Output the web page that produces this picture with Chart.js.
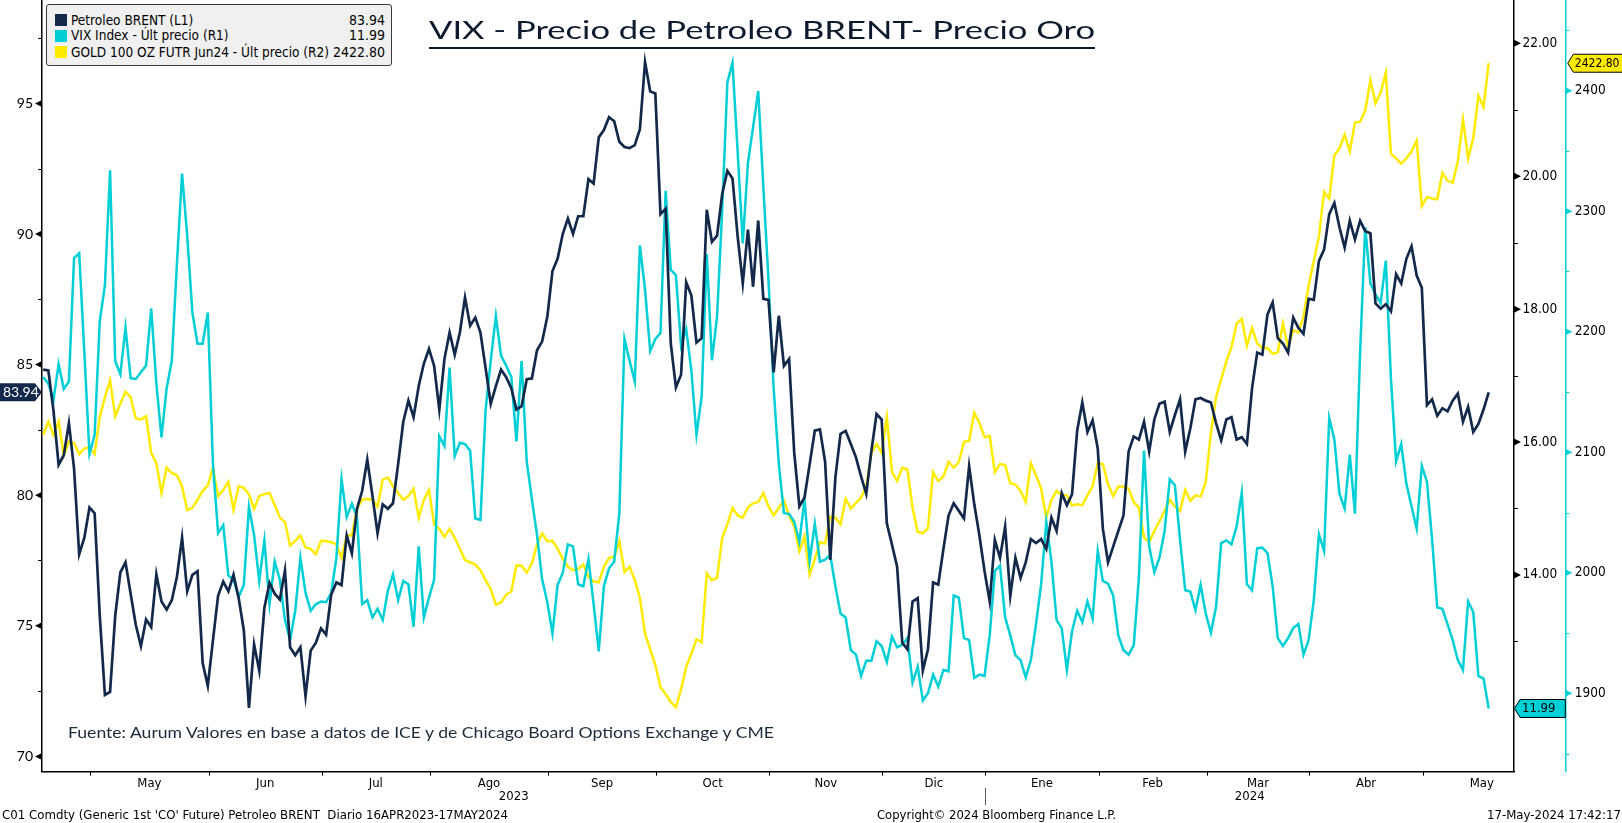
<!DOCTYPE html>
<html><head><meta charset="utf-8">
<script src="https://cdn.jsdelivr.net/npm/chart.js"></script>
<style>
html,body{margin:0;padding:0;background:#fff;width:1622px;height:823px;overflow:hidden;}
#wrap{position:relative;width:1622px;height:823px;}
canvas{position:absolute;left:0;top:0;}
.t{position:absolute;white-space:nowrap;transform-origin:0 0;}
#legend{position:absolute;left:46px;top:4px;width:346px;height:62px;background:#f0f0f0;border:1px solid #3a3a3a;border-radius:3px;box-sizing:border-box;font-family:'DejaVu Sans Condensed','DejaVu Sans',sans-serif;font-size:14px;color:#000;}
#legend .row{position:absolute;left:0;right:0;height:15px;line-height:15px;}
#legend .sq{position:absolute;left:8px;top:1.5px;width:12px;height:12px;}
#legend .lb{position:absolute;left:24px;top:0;white-space:nowrap;transform-origin:0 0;}
#legend .vl{position:absolute;right:6px;top:0;white-space:nowrap;}
.ft{font-family:'Liberation Sans Narrow','DejaVu Sans Condensed',sans-serif;font-size:13px;line-height:13px;color:#000;}
</style></head><body>
<div id="wrap">
<canvas id="c" width="1622" height="823"></canvas>
<div id="title" class="t" data-w="666" style="left:429px;top:17px;font-family:Lato,'Open Sans',sans-serif;font-size:25px;line-height:25px;color:#0b1a2c;">VIX - Precio de Petroleo BRENT- Precio Oro</div>
<div style="position:absolute;left:429px;top:47px;width:666px;height:1.5px;background:#0b1a2c;"></div>
<div id="legend">
  <div class="row" style="top:7.5px"><div class="sq" style="background:#13294b"></div><div class="lb">Petroleo BRENT (L1)</div><div class="vl">83.94</div></div>
  <div class="row" style="top:23px"><div class="sq" style="background:#00cfd6"></div><div class="lb">VIX Index - Últ precio (R1)</div><div class="vl">11.99</div></div>
  <div class="row" style="top:39.5px"><div class="sq" style="background:#ffeb00"></div><div class="lb" id="goldLb">GOLD 100 OZ FUTR Jun24 - Últ precio (R2)</div><div class="vl">2422.80</div></div>
</div>
<div id="source" class="t" data-w="706" style="left:68px;top:723.5px;font-family:Lato,'Open Sans',sans-serif;font-size:16px;line-height:16px;color:#1c2a3a;">Fuente: Aurum Valores en base a datos de ICE y de Chicago Board Options Exchange y CME</div>
<div class="t ft" data-w="506" style="left:2px;top:807.5px;">C01 Comdty (Generic 1st 'CO' Future) Petroleo BRENT&nbsp; Diario 16APR2023-17MAY2024</div>
<div class="t ft" data-w="239" style="left:877px;top:807.5px;">Copyright© 2024 Bloomberg Finance L.P.</div>
<div class="t ft" data-w="134" style="left:1487px;top:807.5px;">17-May-2024 17:42:17</div>
</div>
<script>
// ---- data (one value per trading day, 17 Apr 2023 .. 17 May 2024) ----
const brent = [84.81,84.78,83.24,81.16,81.53,82.76,81.02,77.74,78.37,79.53,
79.31,75.38,72.35,72.47,75.38,77.04,77.43,76.23,75.04,74.22,
75.24,74.95,76.97,75.93,75.62,75.98,76.88,78.37,76.32,76.95,
77.09,73.57,72.70,74.44,76.15,76.69,76.32,76.95,76.06,74.83,
71.86,74.29,73.28,75.69,76.64,76.23,76.01,77.12,74.18,73.87,
74.18,72.30,74.05,74.35,74.90,74.66,76.20,76.66,76.56,78.46,
77.77,79.48,80.16,81.36,79.99,78.54,79.65,79.48,79.69,81.19,
82.81,83.62,82.99,84.18,85.04,85.60,84.95,83.28,85.21,86.23,
85.38,86.23,87.57,86.49,86.80,86.23,84.87,83.50,84.18,84.81,
84.52,84.10,83.28,83.41,84.44,84.47,85.55,85.89,86.83,88.58,
89.05,90.00,90.59,90.00,90.68,90.68,92.10,91.93,93.70,93.98,
94.47,94.32,93.53,93.33,93.29,93.40,94.01,96.58,95.46,95.38,
90.76,90.97,85.81,84.13,84.61,88.15,87.65,85.84,86.01,90.93,
89.70,89.94,91.53,92.42,92.13,89.91,88.11,90.17,87.98,90.51,
87.52,87.48,84.70,86.87,84.95,85.21,81.62,79.57,79.91,81.19,
82.47,82.52,81.28,77.52,80.68,82.35,82.46,81.96,81.45,80.71,
80.05,81.70,83.11,82.90,78.92,78.11,77.26,74.35,74.10,75.93,
76.06,73.29,74.10,76.66,76.58,77.94,79.22,79.69,79.40,79.11,
81.11,79.65,78.46,77.09,75.93,78.29,77.60,78.80,76.15,77.60,
76.83,77.43,78.32,78.17,78.32,77.94,79.14,78.63,80.08,79.62,
80.03,82.47,83.55,82.42,82.87,81.79,78.71,77.43,78.03,78.63,
79.22,81.67,82.25,82.13,82.81,81.67,82.90,83.50,83.58,82.42,
83.07,83.67,81.67,82.56,83.67,83.72,83.62,83.55,82.76,82.10,
82.90,82.99,82.13,82.22,81.96,84.10,85.46,85.38,86.92,87.38,
86.01,85.81,85.46,86.80,86.41,86.18,87.52,87.48,88.97,89.40,
90.76,91.19,90.25,89.48,90.51,89.79,90.51,90.11,90.03,87.34,
87.14,87.31,87.04,88.46,88.11,89.05,89.53,88.41,87.94,83.45,
83.67,83.04,83.33,83.21,83.62,83.89,82.81,83.38,82.42,82.73,
83.28,83.94];
const vix = [16.98,16.88,16.63,17.17,16.80,16.91,18.77,18.84,17.35,15.82,
16.11,17.82,18.36,20.09,17.22,17.02,17.72,16.96,16.95,17.05,
17.15,18.01,16.88,16.07,16.81,17.22,18.69,20.04,19.10,17.95,
17.48,17.48,17.95,15.67,14.63,14.75,13.99,13.93,13.67,13.85,
15.02,14.60,13.91,14.52,13.56,14.20,13.93,13.32,13.02,13.46,
14.26,13.73,13.46,13.56,13.60,13.59,13.73,14.26,15.44,14.87,
15.07,14.87,13.56,13.62,13.36,13.49,13.32,13.76,14.01,13.62,
13.91,13.86,13.22,14.43,13.36,13.66,13.93,16.09,15.94,17.12,
15.79,15.99,15.97,15.87,14.85,14.83,16.48,17.22,17.90,17.30,
17.15,16.98,16.01,17.22,15.71,15.14,14.60,13.93,13.59,13.12,
13.85,14.03,14.46,14.43,13.86,13.83,14.24,13.56,12.85,13.83,
14.10,14.20,14.93,17.55,17.22,16.91,18.96,18.29,17.37,17.55,
17.64,19.78,18.59,18.51,17.45,17.70,17.08,16.11,16.68,18.83,
17.23,17.89,19.50,21.41,21.71,20.37,18.99,20.20,20.74,21.28,
19.83,18.43,16.81,15.67,14.93,14.92,14.80,14.50,15.13,14.21,
14.77,14.20,14.23,14.30,13.83,13.42,13.36,12.87,12.80,12.48,
12.71,12.71,13.00,12.93,12.69,13.07,12.91,12.95,13.05,12.38,
12.62,12.11,12.22,12.50,12.32,12.57,12.55,13.69,13.66,13.05,
13.02,12.45,12.50,12.48,13.09,14.06,14.14,13.36,13.09,12.79,
12.72,12.46,12.72,13.26,13.86,14.80,14.20,13.32,13.20,12.57,
13.15,13.46,13.29,13.60,13.34,14.36,13.91,13.87,13.69,13.09,
12.87,12.80,12.94,13.96,15.87,14.43,14.04,14.26,14.66,15.44,
15.35,14.53,13.77,13.75,13.47,13.85,13.42,13.13,13.52,14.48,
14.52,14.46,14.73,15.24,13.86,13.77,14.40,14.41,14.33,13.83,
13.05,12.93,13.05,13.20,13.26,12.80,13.02,13.62,14.61,14.36,
16.36,16.04,15.22,15.00,15.81,14.92,17.35,19.23,18.39,18.22,
18.09,18.73,16.95,15.71,15.97,15.37,15.03,14.70,15.64,15.40,
14.53,13.51,13.49,13.26,13.02,12.72,12.57,13.60,13.44,12.48,
12.44,11.99];
const gold = [2114.3,2125.4,2114.3,2125.4,2097.6,2108.7,2107.6,2098.4,2103.2,2103.9,
2098.4,2129.1,2145.8,2159.8,2129.8,2140.2,2150.2,2145.8,2128.0,2127.3,
2129.8,2099.5,2091.0,2066.2,2087.2,2082.8,2080.9,2071.7,2052.1,2053.9,
2060.6,2068.0,2072.4,2087.2,2063.6,2068.7,2075.4,2052.4,2071.7,2070.6,
2065.0,2053.2,2063.6,2065.4,2066.2,2056.2,2045.8,2042.1,2022.5,2026.5,
2031.0,2021.0,2019.9,2015.4,2026.5,2026.1,2025.4,2023.5,2012.4,2030.9,
2030.9,2053.2,2060.6,2061.3,2060.6,2055.0,2077.3,2079.1,2071.7,2066.2,
2060.6,2063.6,2069.8,2045.8,2060.6,2068.7,2040.2,2036.5,2029.8,2036.5,
2029.1,2019.9,2010.6,2008.7,2006.9,2002.1,1993.9,1986.5,1973.6,1975.4,
1981.7,1984.7,2006.1,2005.8,2000.2,2007.6,2023.5,2032.8,2026.1,2026.5,
2019.9,2011.7,2005.0,2002.1,2003.2,2006.9,1996.5,1992.8,1992.1,2005.0,
2012.4,2013.2,2026.5,2000.6,2005.0,1994.0,1979.1,1949.5,1936.5,1923.6,
1905.1,1899.5,1892.8,1888.4,1903.2,1921.7,1932.8,1945.0,1942.1,1999.5,
1993.9,1995.8,2029.1,2040.2,2053.9,2047.6,2045.8,2054.3,2057.6,2058.7,
2066.2,2055.0,2047.6,2053.9,2059.8,2047.6,2038.4,2018.0,2030.2,1998.4,
2011.3,2025.4,2024.3,2046.5,2045.8,2040.2,2061.3,2053.2,2058.0,2062.4,
2071.7,2099.5,2106.9,2099.5,2129.1,2083.5,2076.1,2087.2,2085.8,2053.9,
2033.9,2032.8,2037.0,2083.5,2076.1,2079.8,2092.1,2087.2,2092.1,2108.7,
2109.5,2132.8,2124.3,2112.4,2113.5,2083.5,2090.2,2089.5,2074.3,2073.2,
2068.0,2058.7,2090.9,2080.9,2069.8,2045.8,2060.6,2068.0,2064.3,2064.3,
2055.8,2056.9,2056.1,2064.3,2071.7,2090.9,2090.2,2073.6,2063.6,2071.7,
2071.7,2069.8,2058.7,2053.9,2029.1,2025.4,2034.7,2042.8,2051.3,2060.6,
2055.0,2051.3,2068.7,2059.8,2064.3,2063.2,2075.4,2116.1,2145.8,2160.6,
2175.4,2187.3,2206.9,2210.6,2188.4,2203.2,2190.2,2186.5,2186.5,2181.7,
2182.8,2206.9,2187.3,2201.3,2199.5,2212.4,2238.4,2258.7,2279.1,2316.1,
2310.6,2346.5,2352.1,2363.5,2349.5,2373.5,2374.3,2383.5,2408.7,2389.5,
2398.4,2415.0,2347.6,2343.9,2339.5,2343.9,2349.5,2358.7,2304.3,2311.7,
2310.6,2309.9,2331.7,2325.4,2323.6,2341.3,2376.1,2343.9,2360.6,2395.8,
2386.5,2422.8];

// ---- categories / ticks ----
const monthLabels = ['May','Jun','Jul','Ago','Sep','Oct','Nov','Dic','Ene','Feb','Mar','Abr','May'];
const monthStart  = [10,33,55,76,99,120,142,164,184,206,227,247,269]; // first trading-day index
const monthDays   = [23,22,21,23,21,22,22,20,22,21,20,22,23];
const yearLabels  = ['2023','2024'];
const yearStartMonth = 8; // index in monthStart where 2024 begins
const brentTicks = [70,75,80,85,90,95];
const brentMinor = [72.5,77.5,82.5,87.5,92.5,97.5];
const vixTicks   = [14,16,18,20,22];
const vixMinor   = [13,15,17,19,21];
const goldTicks  = [1900,2000,2100,2200,2300,2400];
const goldMinor  = [1850,1950,2050,2150,2250,2350,2450];
const lastValues = {brent:'83.94', vix:'11.99', gold:'2422.80'};

const C_BRENT = '#13294b', C_VIX = '#00cfd6', C_GOLD = '#ffeb00';
const BOUND_OFF = 0.85;
const boundaries = monthStart.map(s => s - BOUND_OFF);
const labelCenters = monthStart.map((s, k) => s - BOUND_OFF + monthDays[k] / 2);

const NARROW = "'Liberation Sans Narrow','DejaVu Sans Condensed',sans-serif";
const COND = "'DejaVu Sans Condensed','DejaVu Sans',sans-serif";
const ROUND = "Lato,'Open Sans',sans-serif";

function tri(ctx, x, y, dir, color) {
  ctx.fillStyle = color;
  ctx.beginPath();
  ctx.moveTo(x, y - 3.5);
  ctx.lineTo(x + dir * 7, y);
  ctx.lineTo(x, y + 3.5);
  ctx.closePath();
  ctx.fill();
}
function hline(ctx, x0, x1, y, color) {
  ctx.strokeStyle = color; ctx.lineWidth = 1;
  ctx.beginPath(); ctx.moveTo(x0, Math.round(y) + 0.5); ctx.lineTo(x1, Math.round(y) + 0.5); ctx.stroke();
}

const deco = {
  id: 'deco',
  afterDraw(chart) {
    const {ctx, chartArea: a, scales} = chart;
    const xs = scales.x, ys = scales.y, y1 = scales.y1, y2 = scales.y2;
    ctx.save();
    brentTicks.forEach(v => tri(ctx, a.left, ys.getPixelForValue(v), -1, '#000'));
    brentMinor.forEach(v => hline(ctx, a.left - 4, a.left, ys.getPixelForValue(v), '#000'));
    vixTicks.forEach(v => tri(ctx, a.right, y1.getPixelForValue(v), 1, '#000'));
    vixMinor.forEach(v => hline(ctx, a.right, a.right + 4, y1.getPixelForValue(v), '#000'));
    const gx = y2.left;
    goldTicks.forEach(v => tri(ctx, gx, y2.getPixelForValue(v), 1, C_VIX));
    goldMinor.forEach(v => hline(ctx, gx, gx + 4, y2.getPixelForValue(v), C_VIX));
    ctx.strokeStyle = '#000'; ctx.lineWidth = 1;
    boundaries.forEach(b => {
      const x = Math.round(xs.getPixelForValue(b)) + 0.5;
      ctx.beginPath(); ctx.moveTo(x, a.bottom); ctx.lineTo(x, a.bottom + 4); ctx.stroke();
    });
    const sepX = Math.round(xs.getPixelForValue(boundaries[yearStartMonth])) + 0.5;
    ctx.strokeStyle = '#555';
    ctx.beginPath(); ctx.moveTo(sepX, 788); ctx.lineTo(sepX, 805); ctx.stroke();
    ctx.fillStyle = '#000';
    ctx.font = '13px ' + NARROW;
    ctx.textAlign = 'center'; ctx.textBaseline = 'middle';
    ctx.fillText(yearLabels[0], (a.left + sepX) / 2, 797);
    ctx.fillText(yearLabels[1], (sepX + a.right) / 2, 797);
    // Brent tag
    let yc = ys.getPixelForValue(parseFloat(lastValues.brent));
    ctx.fillStyle = C_BRENT;
    ctx.beginPath();
    ctx.moveTo(0, yc - 9); ctx.lineTo(35, yc - 9); ctx.lineTo(a.left, yc); ctx.lineTo(35, yc + 9); ctx.lineTo(0, yc + 9);
    ctx.closePath(); ctx.fill();
    ctx.fillStyle = '#fff'; ctx.font = '14px ' + ROUND; ctx.textAlign = 'left';
    ctx.fillText(lastValues.brent, 3, yc + 0.5);
    // VIX tag
    yc = y1.getPixelForValue(parseFloat(lastValues.vix));
    ctx.fillStyle = C_VIX; ctx.strokeStyle = '#000'; ctx.lineWidth = 1;
    ctx.beginPath();
    ctx.moveTo(a.right + 0.5, yc); ctx.lineTo(a.right + 6, yc - 9); ctx.lineTo(gx, yc - 9); ctx.lineTo(gx, yc + 9); ctx.lineTo(a.right + 6, yc + 9);
    ctx.closePath(); ctx.fill(); ctx.stroke();
    ctx.fillStyle = '#000'; ctx.font = '13px ' + COND;
    ctx.fillText(lastValues.vix, a.right + 8, yc + 0.5);
    // Gold tag
    yc = y2.getPixelForValue(parseFloat(lastValues.gold));
    ctx.fillStyle = C_GOLD;
    ctx.beginPath();
    ctx.moveTo(gx + 2.5, yc); ctx.lineTo(gx + 8, yc - 9); ctx.lineTo(1625, yc - 9); ctx.lineTo(1625, yc + 9); ctx.lineTo(gx + 8, yc + 9);
    ctx.closePath(); ctx.fill(); ctx.stroke();
    ctx.fillStyle = '#000'; ctx.font = '12px ' + COND;
    ctx.fillText(lastValues.gold, gx + 9.5, yc + 0.5);
    ctx.restore();
  }
};

function zeroPad(s) { s.paddingTop = 0; s.paddingBottom = 0; s.paddingLeft = 0; s.paddingRight = 0; }
const mk = arr => arr.map((v, i) => ({x: i, y: v}));

new Chart(document.getElementById('c'), {
  type: 'line',
  data: {
    datasets: [
      {label: 'Petroleo BRENT (L1)', data: mk(brent), yAxisID: 'y', borderColor: C_BRENT, borderWidth: 2.7, pointRadius: 0, tension: 0, order: 0},
      {label: 'VIX Index - Últ precio (R1)', data: mk(vix), yAxisID: 'y1', borderColor: C_VIX, borderWidth: 2.5, pointRadius: 0, tension: 0, order: 1},
      {label: 'GOLD 100 OZ FUTR Jun24 - Últ precio (R2)', data: mk(gold), yAxisID: 'y2', borderColor: C_GOLD, borderWidth: 2.5, pointRadius: 0, tension: 0, order: 2}
    ]
  },
  options: {
    responsive: false, animation: false, devicePixelRatio: 1,
    layout: {padding: 0},
    plugins: {legend: {display: false}, tooltip: {enabled: false}, title: {display: false}},
    scales: {
      x: {
        type: 'linear', position: 'bottom', min: -0.231, max: 285.92,
        afterBuildTicks: s => { s.ticks = labelCenters.map(v => ({value: v})); },
        ticks: {autoSkip: false, maxRotation: 0, minRotation: 0, padding: 0, color: '#000',
                font: {family: NARROW, size: 13}, callback: (v, i) => monthLabels[i]},
        grid: {display: true, drawOnChartArea: false, drawTicks: true, tickLength: 4, tickColor: 'rgba(0,0,0,0)'},
        border: {display: true, color: '#000', width: 1.5},
        afterFit: s => { s.height = 51.3; zeroPad(s); }
      },
      y: {
        type: 'linear', position: 'left', min: 69.414, max: 98.959,
        afterBuildTicks: s => { s.ticks = brentTicks.map(v => ({value: v})); },
        ticks: {padding: 2, color: '#000', font: {family: ROUND, size: 14}, callback: v => String(v)},
        grid: {display: true, drawOnChartArea: false, drawTicks: true, tickLength: 7, tickColor: 'rgba(0,0,0,0)'},
        border: {display: true, color: '#000', width: 1.5},
        afterFit: s => { s.width = 42; zeroPad(s); }
      },
      y1: {
        type: 'linear', position: 'right', min: 11.039, max: 22.652,
        afterBuildTicks: s => { s.ticks = vixTicks.map(v => ({value: v})); },
        ticks: {padding: 1.5, color: '#000', font: {family: COND, size: 13.5}, callback: v => Number(v).toFixed(2)},
        grid: {display: true, drawOnChartArea: false, drawTicks: true, tickLength: 7, tickColor: 'rgba(0,0,0,0)'},
        border: {display: true, color: '#000', width: 1.5},
        afterFit: s => { s.width = 51.3; zeroPad(s); }
      },
      y2: {
        type: 'linear', position: 'right', min: 1834.96, max: 2475.26,
        afterBuildTicks: s => { s.ticks = goldTicks.map(v => ({value: v})); },
        ticks: {padding: 2.5, color: '#000', font: {family: COND, size: 13.5}, callback: v => String(v)},
        grid: {display: true, drawOnChartArea: false, drawTicks: true, tickLength: 7, tickColor: 'rgba(0,0,0,0)'},
        border: {display: true, color: C_VIX, width: 1.5},
        afterFit: s => { s.width = 56.7; zeroPad(s); }
      }
    }
  },
  plugins: [deco]
});

// fit overlay texts to the reference widths
document.querySelectorAll('[data-w]').forEach(el => {
  const w = el.getBoundingClientRect().width;
  const target = parseFloat(el.getAttribute('data-w'));
  if (w > 0) el.style.transform = 'scaleX(' + (target / w).toFixed(4) + ')';
});
// legend labels: one common horizontal scale so the longest label spans ~258px
(function () {
  const g = document.getElementById('goldLb');
  const k = 258 / g.getBoundingClientRect().width;
  document.querySelectorAll('#legend .lb').forEach(el => { el.style.transform = 'scaleX(' + k.toFixed(4) + ')'; });
})();
</script>
</body></html>
